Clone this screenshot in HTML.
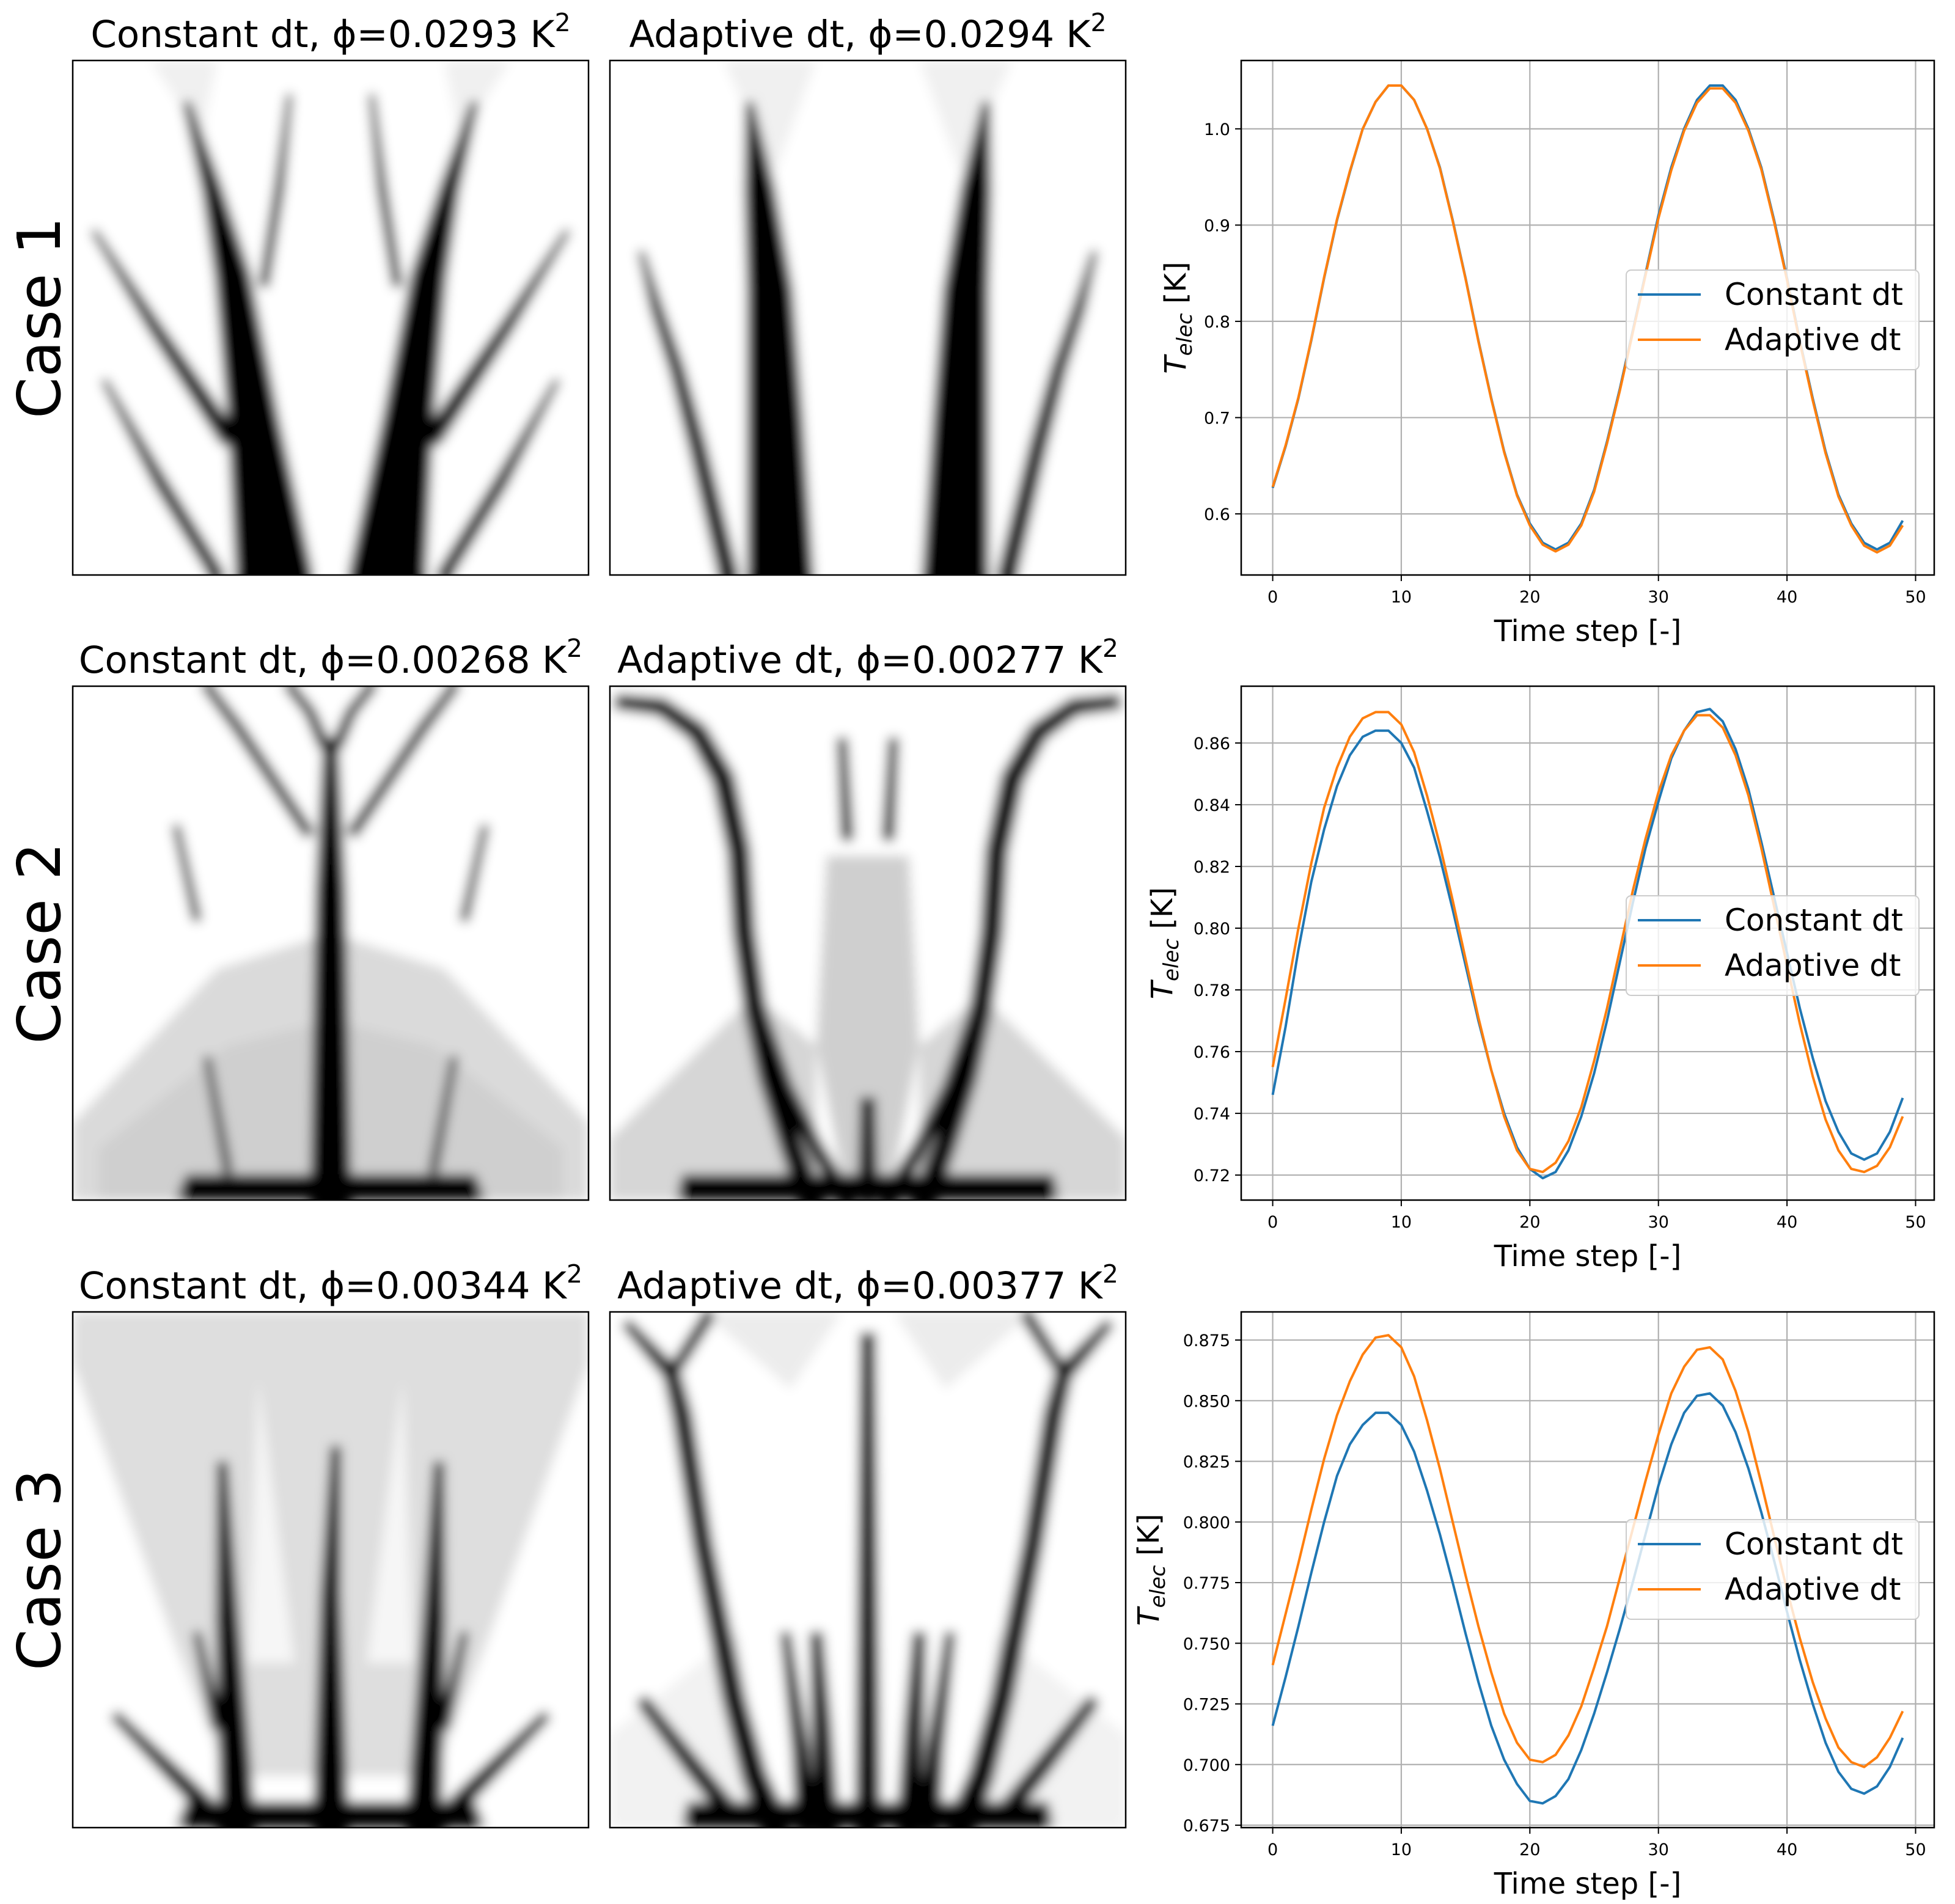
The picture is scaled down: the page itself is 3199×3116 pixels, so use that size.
<!DOCTYPE html>
<html><head><meta charset="utf-8"><style>
html,body{margin:0;padding:0;background:#fff}
svg{display:block}
text{font-family:"DejaVu Sans","Liberation Sans",sans-serif}
</style></head><body>
<svg id="root" width="3199" height="3116" viewBox="0 0 3199 3116" xmlns="http://www.w3.org/2000/svg">
<defs><filter id="blur" x="-10%" y="-10%" width="120%" height="120%"><feGaussianBlur stdDeviation="1.1"/></filter>
<clipPath id="imgclip"><rect x="0" y="0" width="100" height="100"/></clipPath></defs>
</svg>
<script>
// ---- chart data ----
const steps = Array.from({length:50},(_,i)=>i);
const xTicks = [0,10,20,30,40,50];
const c1Const = [0.627,0.67,0.72,0.78,0.845,0.905,0.955,1.0,1.028,1.045,1.045,1.03,1.0,0.96,0.905,0.845,0.78,0.72,0.665,0.62,0.59,0.57,0.563,0.57,0.59,0.625,0.675,0.73,0.79,0.85,0.91,0.96,1.0,1.03,1.045,1.045,1.03,1.0,0.96,0.905,0.845,0.78,0.72,0.665,0.62,0.59,0.57,0.563,0.57,0.593];
const c1Adapt = [0.628,0.671,0.721,0.781,0.846,0.906,0.956,1.0,1.028,1.045,1.045,1.03,1.0,0.959,0.904,0.844,0.779,0.719,0.664,0.619,0.588,0.568,0.561,0.568,0.588,0.623,0.673,0.728,0.788,0.848,0.907,0.957,0.998,1.027,1.042,1.042,1.027,0.998,0.958,0.903,0.843,0.778,0.718,0.663,0.618,0.588,0.567,0.56,0.567,0.588];
const c2Const = [0.746,0.768,0.793,0.815,0.832,0.846,0.856,0.862,0.864,0.864,0.860,0.852,0.838,0.823,0.806,0.788,0.770,0.754,0.740,0.729,0.722,0.719,0.721,0.728,0.739,0.753,0.770,0.789,0.808,0.826,0.841,0.855,0.864,0.870,0.871,0.867,0.858,0.845,0.828,0.810,0.792,0.774,0.758,0.744,0.734,0.727,0.725,0.727,0.734,0.745];
const c2Adapt = [0.755,0.777,0.800,0.821,0.839,0.852,0.862,0.868,0.870,0.870,0.866,0.857,0.843,0.827,0.809,0.790,0.771,0.754,0.739,0.728,0.722,0.721,0.724,0.731,0.742,0.757,0.774,0.793,0.812,0.829,0.844,0.856,0.864,0.869,0.869,0.865,0.856,0.843,0.826,0.807,0.788,0.769,0.752,0.738,0.728,0.722,0.721,0.723,0.729,0.739];
const c3Const = [0.716,0.736,0.757,0.779,0.800,0.819,0.832,0.840,0.845,0.845,0.840,0.829,0.813,0.795,0.775,0.754,0.734,0.716,0.702,0.692,0.685,0.684,0.687,0.694,0.706,0.721,0.738,0.756,0.775,0.795,0.815,0.832,0.845,0.852,0.853,0.848,0.837,0.822,0.804,0.784,0.763,0.743,0.725,0.709,0.697,0.690,0.688,0.691,0.699,0.711];
const c3Adapt = [0.741,0.762,0.783,0.805,0.826,0.844,0.858,0.869,0.876,0.877,0.872,0.860,0.842,0.822,0.800,0.778,0.757,0.738,0.721,0.709,0.702,0.701,0.704,0.712,0.724,0.740,0.757,0.777,0.797,0.817,0.836,0.853,0.864,0.871,0.872,0.867,0.854,0.837,0.816,0.794,0.772,0.752,0.734,0.719,0.707,0.701,0.699,0.703,0.711,0.722];
const yTicks1 = [0.6,0.7,0.8,0.9,1.0];
const yTicks2 = [0.72,0.74,0.76,0.78,0.80,0.82,0.84,0.86];
const yTicks3 = [0.675,0.700,0.725,0.750,0.775,0.800,0.825,0.850,0.875];
const yLabels1 = ["0.6","0.7","0.8","0.9","1.0"];
const yLabels2 = ["0.72","0.74","0.76","0.78","0.80","0.82","0.84","0.86"];
const yLabels3 = ["0.675","0.700","0.725","0.750","0.775","0.800","0.825","0.850","0.875"];
const titles = [["Constant dt, ϕ=0.0293 K","Adaptive dt, ϕ=0.0294 K"],["Constant dt, ϕ=0.00268 K","Adaptive dt, ϕ=0.00277 K"],["Constant dt, ϕ=0.00344 K","Adaptive dt, ϕ=0.00377 K"]];

const NS="http://www.w3.org/2000/svg";
const root=document.getElementById('root');
function mk(tag,attrs,parent){const e=document.createElementNS(NS,tag);for(const k in attrs)e.setAttribute(k,attrs[k]);(parent||root).appendChild(e);return e;}

const rowsY=[[99,941],[1123,1964],[2147,2991]];
const colX=[[119,963],[998,1842]];
const axX=[2031,3165];
const yRanges=[[0.5365,1.071],[0.7119,0.8784],[0.674,0.8866]];
const yLabX=[1940,1918,1896];
const series=[[c1Const,c1Adapt],[c2Const,c2Adapt],[c3Const,c3Adapt]];
const yt=[yTicks1,yTicks2,yTicks3], yl=[yLabels1,yLabels2,yLabels3];
const legTop=[442,1466,2487];

// ---- topology images ----
function seg(g,pts,mirror,color){
  const draw=(P)=>{
    for(let i=0;i<P.length-1;i++){
      const [x1,y1,w1]=P[i],[x2,y2,w2]=P[i+1];
      const dx=x2-x1,dy=y2-y1,L=Math.hypot(dx,dy)||1,nx=-dy/L,ny=dx/L;
      const p=mk('polygon',{points:`${x1+nx*w1/2},${y1+ny*w1/2} ${x2+nx*w2/2},${y2+ny*w2/2} ${x2-nx*w2/2},${y2-ny*w2/2} ${x1-nx*w1/2},${y1-ny*w1/2}`,fill:color||'#000'},g);
      
      
      const c=mk('circle',{cx:x2,cy:y2,r:w2/2,fill:color||'#000'},g);
      
      
    }
  };
  draw(pts);
  if(mirror) draw(pts.map(p=>[100-p[0],p[1],p[2]]));
}
function poly(g,pts,fill,mirror){
  const a=mk('polygon',{points:pts.map(p=>p.join(',')).join(' '),fill:fill},g);
  
  
  if(mirror){const b=mk('polygon',{points:pts.map(p=>(100-p[0])+','+p[1]).join(' '),fill:fill},g);
  
  }
}
const designs=[
 [ g=>{ poly(g,[[15,0],[28,0],[25,15]],'#f0f0f0',true);
        seg(g,[[22,8,1.5],[27,25,4],[31,42,7],[35,70,10],[39,100,15]],true);
        seg(g,[[37,44,2],[40,25,2],[42,7,1.2]],true);
        seg(g,[[4,33,1.2],[16,52,2.8],[30,73,4]],true);
        seg(g,[[6,62,1.2],[17,82,2.8],[28,100,3]],true); },
   g=>{ poly(g,[[22,0],[40,0],[32,22]],'#f0f0f0',true);
        seg(g,[[27,8,1.5],[29,25,6],[31,45,9],[32,70,11],[33,100,13]],true);
        seg(g,[[6,37,1.2],[9,48,2.5],[13,60,3],[17,75,3.5],[23,100,4]],true); } ],
 [ g=>{ poly(g,[[0,85],[28,55],[50,48],[50,100],[0,100]],'#dadada',true);
        poly(g,[[5,90],[30,70],[50,65],[50,100],[5,100]],'#cfcfcf',true);
        seg(g,[[50,10,3],[50,40,6],[50,100,8]],false);
        seg(g,[[49,12,2.5],[46,5,2.2],[42,0,2]],true);
        seg(g,[[46,29,2.3],[38,17,2.3],[32,8,2.3],[26,0,2]],true);
        seg(g,[[20,27,1.5],[24,45,1.8]],true);
        seg(g,[[26,72,1.5],[30,94,2]],true,'#444');
        poly(g,[[22,95],[78,95],[80,100],[20,100]],'#000',false); },
   g=>{ poly(g,[[0,88],[28,60],[40,70],[40,100],[0,100]],'#d6d6d6',true);
        poly(g,[[42,33],[58,33],[60,70],[55,95],[45,95],[40,70]],'#cfcfcf',false);
        seg(g,[[1,3,3],[10,4,3.5],[17,9,4],[22,18,4.5],[25,32,4.5],[26,48,4.5],[28,62,4.5],[31,76,4.5],[35,89,4.5],[39,100,5]],true);
        seg(g,[[28,60,2.5],[34,78,3],[40,90,3],[46,100,3.5]],true);
        seg(g,[[45,10,2],[46,29,2.5]],true);
        seg(g,[[50,80,3],[50,99,4]],false);
        poly(g,[[14,95],[86,95],[87,100],[13,100]],'#000',false); } ],
 [ g=>{ poly(g,[[0,0],[100,0],[100,10],[80,65],[70,90],[30,90],[20,65],[0,10]],'#dedede',false);
        poly(g,[[36,13],[43,68],[34,68]],'#f6f6f6',true);
        seg(g,[[51,26,2],[50,55,4],[50,100,7]],false);
        seg(g,[[29,29,2],[30,60,4.5],[32,100,7]],true);
        seg(g,[[24,62,1.5],[28,80,2.5]],true);
        seg(g,[[8,78,2],[22,92,3.5],[30,100,4]],true);
        poly(g,[[22,95],[78,95],[80,100],[20,100]],'#000',false); },
   g=>{ poly(g,[[18,0],[45,0],[35,15]],'#ececec',true);
        poly(g,[[0,82],[25,62],[30,100],[0,100]],'#f2f2f2',true);
        seg(g,[[3,2,2],[12,12,3.5],[14,20,4],[18,45,4],[24,75,4.5],[28,90,5],[32,100,6]],true);
        seg(g,[[12,12,2.5],[19,1,2.5]],true);
        seg(g,[[50,4,3],[50,50,4],[50,100,5]],false);
        seg(g,[[40,62,2.5],[41,80,4],[42,100,5]],true);
        seg(g,[[34,62,2],[37,85,3.5],[38,100,4]],true);
        seg(g,[[6,75,2.5],[16,88,3.5],[24,98,4]],true);
        poly(g,[[15,95],[85,95],[86,100],[14,100]],'#000',false); } ]
];
const caseNames=["Case 1","Case 2","Case 3"];
for(let r=0;r<3;r++){
  const [y0,y1]=rowsY[r];
  const cl=mk('text',{x:0,y:0,'font-size':97,'text-anchor':'middle','transform':`translate(98,${(y0+y1)/2}) rotate(-90)`});
  cl.textContent=caseNames[r];
  
  
  for(let c=0;c<2;c++){
    const [x0,x1]=colX[c];
    const t=mk('text',{x:(x0+x1)/2,y:y0-22,'font-size':61,'text-anchor':'middle'});
    t.textContent=titles[r][c];
    const s=mk('tspan',{'font-size':41,dy:-26},t); s.textContent='2';
    
    
    const g=mk('g',{transform:`translate(${x0},${y0}) scale(${(x1-x0)/100},${(y1-y0)/100})`});
    
    
    const inner=mk('g',{filter:'url(#blur)','clip-path':'url(#imgclip)'},g);
    mk('rect',{x:0,y:0,width:100,height:100,fill:'#fff'},inner);
    designs[r][c](inner);
    const fr=mk('rect',{x:x0,y:y0,width:x1-x0,height:y1-y0,fill:'none',stroke:'#000','stroke-width':2.5});
    
    
  }
  // ---- chart ----
  const [ymin,ymax]=yRanges[r];
  const X=v=>axX[0]+(v-(-2.45))/(51.45+2.45)*(axX[1]-axX[0]);
  const Y=v=>y1-(v-ymin)/(ymax-ymin)*(y1-y0);
  const cg=mk('g',{});  
  xTicks.forEach(v=>{
    const l=mk('line',{x1:X(v),x2:X(v),y1:y0,y2:y1,stroke:'#b0b0b0','stroke-width':2.2},cg);
     
    const tk=mk('line',{x1:X(v),x2:X(v),y1:y1,y2:y1+10,stroke:'#000','stroke-width':2},cg);
     
    const tl=mk('text',{x:X(v),y:y1+45,'font-size':27,'text-anchor':'middle'},cg); tl.textContent=v;
     
  });
  yt[r].forEach((v,i)=>{
    const l=mk('line',{x1:axX[0],x2:axX[1],y1:Y(v),y2:Y(v),stroke:'#b0b0b0','stroke-width':2.2},cg);
     
    const tk=mk('line',{x1:axX[0]-10,x2:axX[0],y1:Y(v),y2:Y(v),stroke:'#000','stroke-width':2},cg);
     
    const tl=mk('text',{x:axX[0]-18,y:Y(v)+10,'font-size':27,'text-anchor':'end'},cg); tl.textContent=yl[r][i];
     
  });
  const colors=['#1f77b4','#ff7f0e'];
  series[r].forEach((d,k)=>{
    const p=mk('polyline',{points:d.map((v,i)=>X(steps[i])+','+Y(v)).join(' '),fill:'none',stroke:colors[k],'stroke-width':4,'stroke-linejoin':'round'},cg);
     
  });
  const ax=mk('rect',{x:axX[0],y:y0,width:axX[1]-axX[0],height:y1-y0,fill:'none',stroke:'#000','stroke-width':2.5},cg);
   
  const xl=mk('text',{x:(axX[0]+axX[1])/2,y:y1+108,'font-size':48,'text-anchor':'middle'},cg); xl.textContent='Time step [-]';
   
  const ylb=mk('text',{x:0,y:0,'font-size':48,'text-anchor':'middle',transform:`translate(${yLabX[r]},${(y0+y1)/2}) rotate(-90)`},cg);
  const it=mk('tspan',{'font-style':'italic'},ylb); it.textContent='T';
  const sb=mk('tspan',{'font-style':'italic','font-size':34,dy:10},ylb); sb.textContent='elec';
  const kk=mk('tspan',{dy:-10},ylb); kk.textContent=' [K]';
   
  // legend
  const lt=legTop[r];
  const lg=mk('g',{},cg);  
  mk('rect',{x:2661,y:lt,width:479,height:163,rx:8,fill:'#fff','fill-opacity':0.8,stroke:'#ccc','stroke-width':2},lg);
  ['Constant dt','Adaptive dt'].forEach((nm,k)=>{
    const yy=lt+40+k*74;
    const ll=mk('line',{x1:2680,x2:2783,y1:yy,y2:yy,stroke:colors[k],'stroke-width':4},lg);
     
    const tx=mk('text',{x:2822,y:yy+17,'font-size':50},lg); tx.textContent=nm;
     
  });
}
</script>
</body></html>
